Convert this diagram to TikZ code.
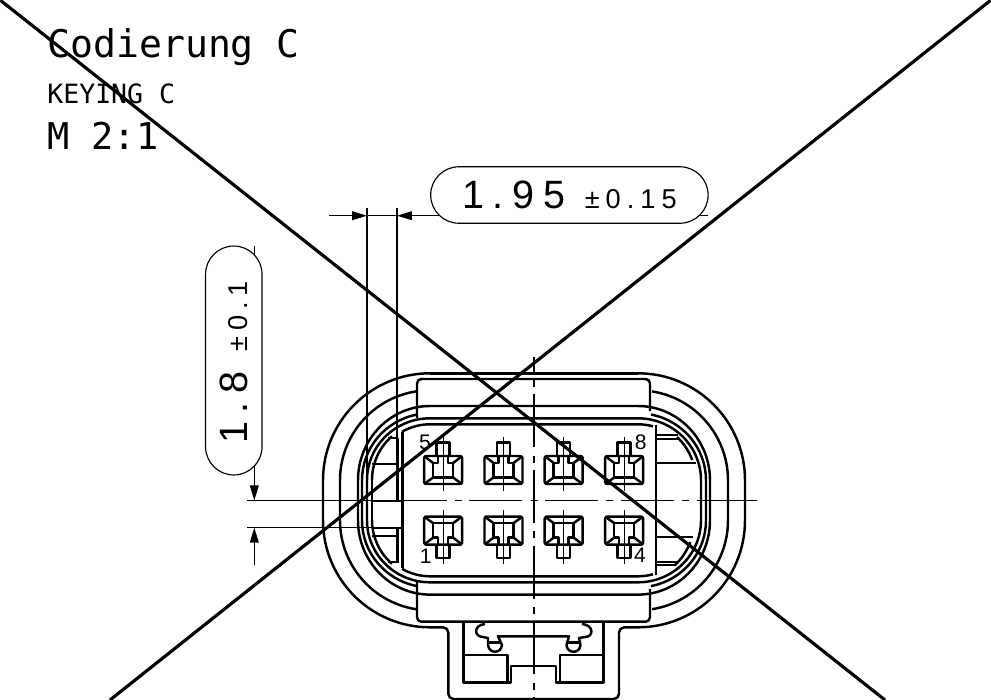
\documentclass[tikz,border=0pt]{standalone}
\usepackage{fontspec}
\usepackage{tikz}
\usetikzlibrary{shapes.misc}
\usetikzlibrary{arrows.meta}
\newfontfamily\labelfont{DejaVu Sans Mono}
\newfontfamily\dimfont[LetterSpace=22]{Liberation Sans}
\newfontfamily\pinfont{Liberation Sans}
\begin{document}
\begin{tikzpicture}
			[
				x = 0.02cm, y = -0.02cm,
				contour/.style = {line width = 1.4pt, line join = round},
				thinline/.style = {line width = 0.65pt},
				axisline/.style = {line width = 0.65pt, dash pattern = on 4pt off 4.2pt on 30pt off 4.9pt},
				dimline/.style = {line width = 0.65pt, -{Triangle[length = 8.5pt, width = 5pt]}},
				crossline/.style = {line width = 1.8pt},
				tolbox/.style = {rounded rectangle, draw = black, line width = 0.65pt, fill = white, inner sep = 0pt, minimum height = 1.13cm},
				title/.style = {anchor = base west, inner sep = 0pt},
				pinlabel/.style = {font = \pinfont\fontsize{12pt}{12pt}\selectfont, inner sep = 0pt},
			]
			\useasboundingbox (0,0) rectangle (991,700);
			% named end points
			\coordinate (crossA) at (0,0);
			\coordinate (crossB) at (885,700);
			\coordinate (crossC) at (991,0);
			\coordinate (crossD) at (110,700);
			\coordinate (widthL) at (367,215.7);
			\coordinate (widthR) at (397,215.7);
			\coordinate (widthLfree) at (329,215.7);
			\coordinate (widthRfree) at (708,215.7);
			\coordinate (heightT) at (254.3,500.4);
			\coordinate (heightB) at (254.3,527.6);
			\coordinate (heightTfree) at (254.3,246);
			\coordinate (heightBfree) at (254.3,565);
			% four corners of the housing
			\foreach \sx/\sy/\lip in {-1/-1/60, 1/-1/74.5, -1/1/60, 1/1/74.5}
			{
				\begin{scope}[shift = {(534,500.3)}, xscale = \sx, yscale = \sy]
					\draw [contour] (211,0) -- (211,20) arc [start angle = 0, end angle = 90, radius = 107];
					\draw [contour] (194,0) -- (194,20) arc [start angle = 0, end angle = 81, radius = 90];
					\draw [contour] (176,0) -- (176,20) arc [start angle = 0, end angle = 90, x radius = 72, y radius = 74.3] -- (0,94.3);
					\draw [contour] (172,0) -- (172,20) arc [start angle = 0, end angle = 79, x radius = 68, y radius = 67];
					\draw [contour] (167,0) -- (167,20) arc [start angle = 0, end angle = 90, x radius = 63, y radius = 62] -- (0,82);
					\draw [contour] (0,76) -- (104,76) arc [start angle = 90, end angle = \lip, radius = 56];
				\end{scope}
			}
			% top and bottom of the housing
			\draw [contour] (430,373.3) -- (638,373.3);
			\draw [contour, rounded corners = 3] (430,627.3) -- (448.3,627.3) -- (448.3,699) -- (619,699) -- (619,627.3) -- (638,627.3);
			\draw [contour, rounded corners = 2.5] (417,418) -- (417,379) -- (650,379) -- (650,411);
			\draw [contour, rounded corners = 2.5] (417,582) -- (417,621.7) -- (650,621.7) -- (650,589);
			% left rib
			\draw [contour] (372,480) arc [start angle = 180, end angle = 229, radius = 58];
			\draw [contour] (372,520) arc [start angle = 180, end angle = 131, radius = 58];
			\draw [contour] (372,480) -- (372,520);
			\draw [contour] (402.7,432) -- (402.7,568);
			\draw [contour] (397.3,438) -- (397.3,500.3);
			\draw [contour] (397.3,528) -- (397.3,563);
			\draw [contour] (388,438) -- (397.3,438);
			\draw [contour] (372,464) -- (397.3,464);
			\draw [contour] (372,501) -- (402.7,501);
			\draw [contour] (372,528) -- (402.7,528);
			\draw [contour] (372,536) -- (397.3,536);
			\draw [contour] (388,562) -- (397.3,562);
			% right rib
			\draw [contour] (656,425) -- (656,575);
			\draw [contour] (656,435) -- (678,435);
			\draw [contour] (656,439) -- (680,439);
			\draw [contour] (656,463) -- (696,463);
			\draw [contour] (656,537) -- (693,537);
			\draw [contour] (656,562) -- (678,562);
			\draw [contour] (656,565) -- (676,565);
			\draw [contour] (677,437) arc [start angle = -47, end angle = -20, radius = 59];
			\draw [contour] (675,565) arc [start angle = 47, end angle = 20, radius = 59];
			% contacts
			\foreach \pinx in {-90.9, -30.5, 29.7, 90.2}
			{
				\foreach \piny in {1, -1}
				{
					\begin{scope}[shift = {(534,500.3)}, xshift = \pinx*0.02cm, yscale = \piny]
						\draw [contour, rounded corners = 1] (-19,-44.3) rectangle (19,-16.3);
						\draw [contour] (-5,-44.3) -- (-5,-37.3) -- (-10,-37.3) -- (-10,-22.8) -- (10,-22.8) -- (10,-37.3) -- (5,-37.3) -- (5,-44.3);
						\draw [contour] (-6.5,-44.3) -- (-6.5,-57.8) -- (6.5,-57.8) -- (6.5,-44.3);
						\draw [contour] (-19,-44.3) -- (-10,-37.3) (19,-44.3) -- (10,-37.3) (-19,-16.3) -- (-10,-22.8) (19,-16.3) -- (10,-22.8);
						\draw [thinline] (0,-63.3) -- (0,-9.3);
					\end{scope}
				}
			}
			% keying tab
			\draw [contour] (463.3,622) -- (463.3,682.7) -- (511,682.7) -- (511,666) -- (556,666) -- (556,682.7) -- (603.3,682.7) -- (603.3,622);
			\draw [contour] (463.3,655) -- (507.7,655) -- (507.7,682.7);
			\draw [contour] (603.3,655) -- (560,655) -- (560,682.7);
			\draw [contour] (485,624) .. controls (473,625) and (474,637) .. (483,637) -- (488,638) -- (488,645) .. controls (489,654) and (501,654) .. (502,645) -- (498,636.3) -- (569,636.3) -- (566.5,645) .. controls (567,654) and (580,654) .. (580.5,645) -- (579,638) -- (585,637) .. controls (594,637) and (594,625) .. (582,624);
			\draw [contour] (488,642.7) -- (501,642.7) (567,642.7) -- (580,642.7);
			% centre lines
			\draw [thinline] (534,357) -- (534,373);
			\draw [axisline] (534,380) -- (534,700);
			\draw [thinline] (247,500.4) -- (447,500.4);
			\draw [axisline] (455,500.4) -- (697,500.4);
			\draw [thinline] (697,500.4) -- (757,500.4);
			\draw [thinline] (247,527.6) -- (372,527.6);
			% dimensions
			\draw [thinline] (367,208) -- (367,500);
			\draw [thinline] (397,208) -- (397,438);
			\draw [dimline] (widthLfree) -- (widthL);
			\draw [dimline] (widthRfree) -- (widthR);
			\draw [thinline] (widthL) -- (widthR);
			\draw [dimline] (heightTfree) -- (heightT);
			\draw [dimline] (heightBfree) -- (heightB);
			\node (tolwidth) [tolbox, minimum width = 5.55cm] at (569.4,195) {\dimfont\fontsize{22.5pt}{22.5pt}\selectfont 1.95 \fontsize{15.5pt}{15.5pt}\selectfont ±0.15};
			\node (tolheight) [tolbox, minimum width = 4.58cm, rotate = 90] at (233.8,360.5) {\dimfont\fontsize{22.5pt}{22.5pt}\selectfont 1.8 \fontsize{15.5pt}{15.5pt}\selectfont ±0.1\kern0.08cm};
			% labels
			\node (titlede) [title] at (47,57.5) {\labelfont\fontsize{21.7pt}{21.7pt}\selectfont Codierung C};
			\node (titleen) [title] at (47,103) {\labelfont\fontsize{15.1pt}{15.1pt}\selectfont KEYING C};
			\node (scale) [title] at (47,149) {\labelfont\fontsize{21pt}{21pt}\selectfont M 2:1};
			\node (pinfive) [pinlabel] at (425,442) {5};
			\node (pineight) [pinlabel] at (640.7,442.7) {8};
			\node (pinone) [pinlabel] at (425.7,556.7) {1};
			\node (pinfour) [pinlabel] at (640,555) {4};
			% cross
			\draw [crossline] (crossA) -- (crossB);
			\draw [crossline] (crossC) -- (crossD);
		\end{tikzpicture}
\end{document}
